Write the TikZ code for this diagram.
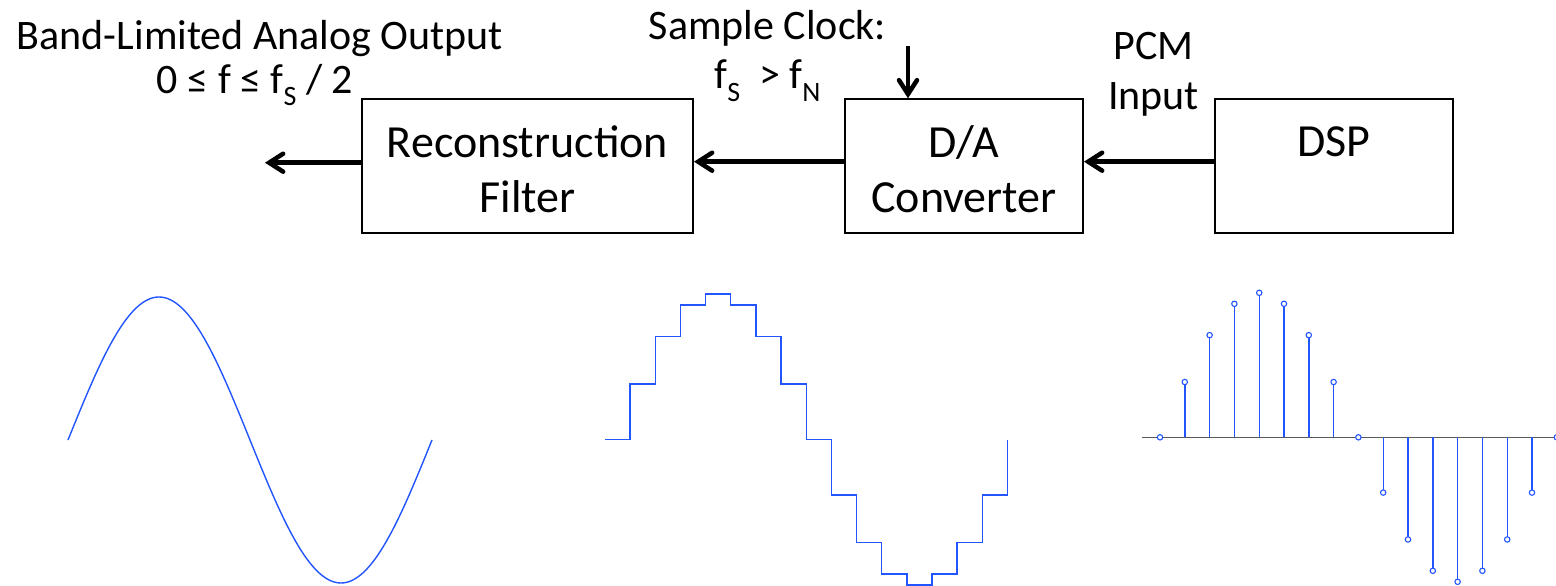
\documentclass[tikz,border=0pt]{standalone}
\usepackage{fontspec}
\setmainfont{Carlito}
\usetikzlibrary{arrows.meta,calc}

\definecolor{wave}{RGB}{35,85,255}
\definecolor{axisgray}{RGB}{90,90,90}

% small lowered subscript in the text font
\newcommand\lowsub[1]{\raisebox{-0.3em}{\fontsize{28}{28}\selectfont #1}}

\tikzset{
  blockbox/.style={draw=black, line width=2pt, fill=white, inner sep=0pt},
  boxtext/.style={font=\fontsize{46}{55}\selectfont, anchor=base, inner sep=0pt},
  labeltext/.style={font=\fontsize{42}{50}\selectfont, anchor=base, inner sep=0pt},
  flow/.style={line width=4.5pt, -{Straight Barb[length=14pt,width=18pt,line cap=round]}},
  signal/.style={draw=wave, line width=1.4pt, line join=miter},
}

\begin{document}
\begin{tikzpicture}[x=1pt, y=-1pt]
\useasboundingbox (0,0) rectangle (1556,586);
\clip (0,0) rectangle (1556,586);

% --- blocks ---
\node[blockbox, minimum width=331pt, minimum height=134pt] (filt) at (527.5,166.3) {};
\node[blockbox, minimum width=238pt, minimum height=134pt] (dac) at (964,166.3) {};
\node[blockbox, minimum width=238pt, minimum height=134pt] (dsp) at (1334,166.3) {};

\node[boxtext] (filt1) at (527.5,157) {Reconstruction};
\node[boxtext] (filt2) at (527.5,212) {Filter};
\node[boxtext] (dac1) at (964,157) {D/A};
\node[boxtext] (dac2) at (964,212) {Converter};
\node[boxtext] (dsp1) at (1334,156) {DSP};

% --- labels ---
\node[labeltext] (out1) at (260,50) {Band-Limited Analog Output};
\node[labeltext] (out2) at (255,93) {0 ≤ f ≤ f\lowsub{S} / 2};
\node[labeltext] (clk1) at (767.5,39.5) {Sample Clock:};
\node[labeltext] (clk2) at (767.5,88.5) {f\lowsub{S}\ \ > f\lowsub{N}};
\node[labeltext] (pcm1) at (1153.5,59.5) {PCM};
\node[labeltext] (pcm2) at (1153.5,110) {Input};

% --- connectors ---
\coordinate (outend) at (265,162.7);
\coordinate (clktop) at (908,46);
\draw[flow] ([yshift=4.6pt]dsp.west) -- ([yshift=4.6pt]dac.east);
\draw[flow] ([yshift=4.6pt]dac.west) -- ([yshift=4.6pt]filt.east);
\draw[flow] ([yshift=3.6pt]filt.west) -- (outend);
\draw[flow] (clktop) -- (clktop |- dac.north);

% --- continuous output: one period of a sine ---
\draw[signal] plot[domain=0:364, samples=150, smooth] ({68+\x},{440-143*sin(0.98901*\x)});

% --- zero-order hold staircase ---
\draw[signal] (605,439.5)
  \foreach \k in {1,...,16} {
    -- ({605+25.15*\k},{439.5-145.5*sin(22.5*(\k-1))})
    -- ({605+25.15*\k},{439.5-145.5*sin(22.5*\k)})
  };

% --- sampled sequence (stem plot) ---
\draw[axisgray, line width=1.4pt] (1141.7,437.3) -- (1560,437.3);
\foreach \k in {0,...,16} {
  \pgfmathsetmacro\sx{1160+24.8*\k}
  \pgfmathsetmacro\sy{437.3-144.5*sin(22.5*\k)}
  \draw[signal] (\sx,437.3) -- (\sx,\sy);
  \draw[draw=wave, line width=1.1pt, fill=white] (\sx,\sy) circle[radius=2.7pt];
}
\end{tikzpicture}
\end{document}
